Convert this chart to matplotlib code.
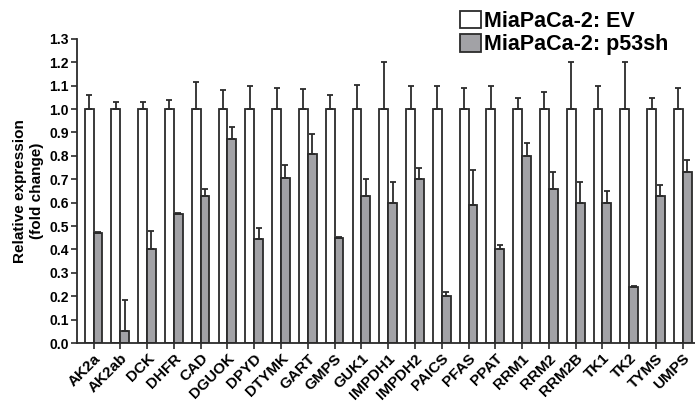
import numpy as np
import matplotlib
matplotlib.use('Agg')
from matplotlib import pyplot as plt
from matplotlib import transforms

plt.rcParams['font.family'] = ['Liberation Sans', 'DejaVu Sans']
plt.rcParams['font.weight'] = 'bold'

genes = ['AK2a', 'AK2ab', 'DCK', 'DHFR', 'CAD', 'DGUOK', 'DPYD', 'DTYMK', 'GART',
         'GMPS', 'GUK1', 'IMPDH1', 'IMPDH2', 'PAICS', 'PFAS', 'PPAT', 'RRM1',
         'RRM2', 'RRM2B', 'TK1', 'TK2', 'TYMS', 'UMPS']

# empty vector control, normalised to 1
ev_mean = [1.0] * len(genes)
ev_err = [0.06, 0.03, 0.03, 0.04, 0.115, 0.08, 0.10, 0.09, 0.085, 0.06, 0.105,
          0.20, 0.10, 0.10, 0.09, 0.10, 0.047, 0.075, 0.20, 0.10, 0.20, 0.047, 0.09]

# p53 knockdown
sh_mean = [0.47, 0.05, 0.40, 0.55, 0.63, 0.87, 0.445, 0.705, 0.81, 0.45, 0.63,
           0.60, 0.70, 0.20, 0.59, 0.40, 0.80, 0.66, 0.60, 0.60, 0.24, 0.63, 0.73]
sh_err = [0.005, 0.135, 0.08, 0.005, 0.03, 0.055, 0.045, 0.055, 0.085, 0.005, 0.07,
          0.09, 0.05, 0.02, 0.15, 0.02, 0.055, 0.07, 0.09, 0.05, 0.003, 0.045, 0.053]

labels = ['MiaPaCa-2: EV', 'MiaPaCa-2: p53sh']
yticks = np.round(np.arange(0, 1.31, 0.1), 1)

fig = plt.figure(figsize=(6.95, 4.05), dpi=100)
ax = fig.add_axes([0.1108, 0.153, 0.889, 0.751])

x = np.arange(len(genes))
w = 0.33
edge = '#2b2b2b'
errkw = dict(ecolor=edge, elinewidth=1.3, capsize=2.2, capthick=1.3)

ax.bar(x - w/2, ev_mean, w, color='white', edgecolor=edge, linewidth=1.3,
       yerr=[np.zeros(len(genes)), ev_err], error_kw=errkw, label=labels[0], zorder=2)
ax.bar(x + w/2, sh_mean, w, color='#a2a2a6', edgecolor=edge, linewidth=1.3,
       yerr=[np.zeros(len(genes)), sh_err], error_kw=errkw, label=labels[1], zorder=2)

ax.set_xlim(-0.616, 22.45)
ax.set_ylim(0, 1.3)
ax.set_yticks(yticks)
ax.set_yticklabels(['%.1f' % v for v in yticks], fontsize=10, fontweight='bold')
ax.set_xticks(x)
ax.set_xticklabels(genes, rotation=45, ha='right', rotation_mode='anchor',
                   fontsize=11, fontweight='bold')
# nudge the slanted labels a bit right, like the original
shift = transforms.ScaledTranslation(5/100, 0, fig.dpi_scale_trans)
for lbl in ax.get_xticklabels():
    lbl.set_transform(lbl.get_transform() + shift)
ax.tick_params(axis='both', direction='out', length=4, width=1.2, color=edge, pad=2)

for s in ['top', 'right']:
    ax.spines[s].set_visible(False)
for s in ['left', 'bottom']:
    ax.spines[s].set_linewidth(1.3)
    ax.spines[s].set_color(edge)

ax.set_ylabel('Relative expression\n(fold change)', fontsize=11, fontweight='bold',
              labelpad=4)

leg = ax.legend(loc='upper left', bbox_to_anchor=(449/695, 1.0), bbox_transform=fig.transFigure,
                frameon=False, fontsize=15.5, handlelength=1.0, handleheight=0.85,
                handletextpad=0.12, labelspacing=0.12, borderaxespad=0.3, borderpad=0.2)
for t in leg.get_texts():
    t.set_fontweight('bold')

fig.savefig('out.png', dpi=100)
